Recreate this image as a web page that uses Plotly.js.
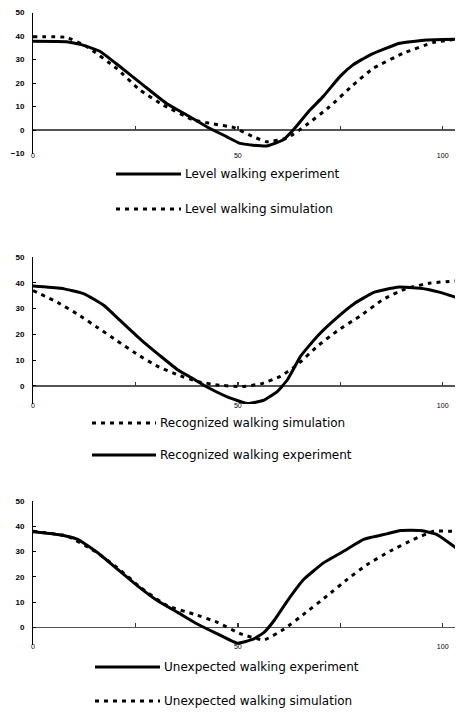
<!DOCTYPE html>
<html>
<head>
<meta charset="utf-8">
<script src="https://cdn.plot.ly/plotly-3.0.1.min.js"></script>
<style>html,body{margin:0;padding:0;background:#fff;}#chart{width:459px;height:712px;}</style>
</head>
<body>
<div id="chart"></div>
<script>
// ---- Data ----
// Panel 1: Level walking
const levelExpX = [0, 8.2, 12, 16.3, 21.2, 26.9, 32.6, 37.5, 42.4, 47.2, 50.5, 57, 61, 63.5, 67.6, 70.8, 74.9, 78.1, 82.2, 89.5, 96, 103];
const levelExpY = [37.8, 37.6, 36.2, 33.5, 27, 19.1, 11.3, 6.4, 1.4, -2.8, -5.7, -6.8, -4.3, 0, 8.5, 14.2, 22.7, 27.7, 31.9, 36.9, 38.3, 38.6];
const levelSimX = [0, 8.2, 13.1, 20.4, 26.1, 31.8, 39.1, 44, 48.9, 53.7, 57, 61.9, 66.7, 72.4, 78.1, 83, 90.3, 97.6, 103];
const levelSimY = [39.7, 39.4, 35.5, 26.2, 17, 10.6, 4.3, 2.6, 1.1, -2.8, -5, -3.5, 2.1, 9.9, 19.1, 26.2, 32.6, 37.2, 38.6];

// Panel 2: Recognized walking
const recExpX = [0, 6.8, 12.5, 17.4, 21.4, 26.3, 31.2, 35.3, 39.3, 42.6, 47.4, 52.3, 56.4, 59.6, 62.1, 65.3, 69.4, 74.2, 78.3, 83.2, 88.9, 94.6, 99.4, 103.2];
const recExpY = [38.8, 37.9, 35.7, 31.1, 25.2, 18, 11.5, 6.3, 2.6, -0.5, -4.2, -6.8, -5.5, -2.2, 2.4, 11.5, 19.3, 26.5, 31.8, 36.3, 38.3, 37.9, 36.3, 34.4];
const recSimX = [0, 6, 10.9, 15.8, 20.6, 25.5, 30.4, 35.3, 40.1, 45, 50.7, 55.6, 60.4, 64.5, 69.4, 74.2, 79.9, 85.6, 91.3, 97, 103.2];
const recSimY = [37, 32.4, 27.8, 22.6, 17.4, 12.2, 7.6, 4.3, 1.7, 0.4, -0.3, 0.8, 3.7, 8.2, 15.4, 21.3, 27.2, 33.7, 37.9, 39.9, 40.7];

// Panel 3: Unexpected walking
const unExpX = [0, 6, 10.9, 15.8, 20.6, 25.5, 30.4, 35.3, 40.1, 45, 49.9, 53.9, 56.4, 58.8, 62.1, 66.1, 71, 75.9, 80.7, 86.4, 89.7, 94.6, 98.6, 103.2];
const unExpY = [37.8, 36.7, 34.8, 29.5, 23, 16.4, 10.5, 5.9, 1.3, -2.6, -6.3, -4.6, -2, 2.6, 10.5, 19, 25.6, 30.2, 34.8, 37, 38.3, 38.3, 36.7, 31.5];
const unSimX = [0, 8.4, 15, 20.6, 26.3, 32.8, 39.3, 45, 50.7, 56.4, 61.3, 66.1, 71.8, 76.7, 81.6, 87.2, 92.9, 97.8, 103.2];
const unSimY = [38, 36.1, 30.2, 23.6, 15.7, 8.5, 5.2, 2, -2.6, -5, -0.7, 5.2, 12.5, 19, 24.9, 30.2, 34.8, 38, 38];

// Axis ticks / labels
const xTickVals = [0, 50, 100];
const xTickText = ["0", "50", "100"];
const zeroTickVals = [25, 50, 75, 100];
const yTickVals1 = [-10, 0, 10, 20, 30, 40, 50];
const yTickVals = [0, 10, 20, 30, 40, 50];

// Legend labels
const legend1 = ["Level walking experiment", "Level walking simulation"];
const legend2 = ["Recognized walking simulation", "Recognized walking experiment"];
const legend3 = ["Unexpected walking experiment", "Unexpected walking simulation"];

// ---- Layout helpers ----
const W = 459, H = 712;
const px = v => v / W;
const py = v => 1 - v / H;
const xDomain = [px(33), px(455)];
const xRange = [0, 103];
const panels = [
  {dom: [py(153.5), py(12.5)], range: [-10, 50], ticks: yTickVals1},
  {dom: [py(404), py(257)], range: [-7, 50], ticks: yTickVals},
  {dom: [py(645), py(501)], range: [-7, 50], ticks: yTickVals}
];

const DASH = '4px,5px';
const solid = {color: '#000', width: 3, shape: 'spline', smoothing: 0.4};
const dashed = {color: '#000', width: 3, dash: DASH, shape: 'spline', smoothing: 0.4};

const traces = [
  {x: levelExpX, y: levelExpY, xaxis: 'x', yaxis: 'y', mode: 'lines', line: solid},
  {x: levelSimX, y: levelSimY, xaxis: 'x', yaxis: 'y', mode: 'lines', line: dashed},
  {x: recExpX, y: recExpY, xaxis: 'x2', yaxis: 'y2', mode: 'lines', line: solid},
  {x: recSimX, y: recSimY, xaxis: 'x2', yaxis: 'y2', mode: 'lines', line: dashed},
  {x: unExpX, y: unExpY, xaxis: 'x3', yaxis: 'y3', mode: 'lines', line: solid},
  {x: unSimX, y: unSimY, xaxis: 'x3', yaxis: 'y3', mode: 'lines', line: dashed}
];

const tickFont = {family: 'Liberation Sans, Arial, sans-serif', size: 8, color: '#000', weight: 'bold'};
const layout = {
  width: W, height: H,
  margin: {l: 0, r: 0, t: 0, b: 0},
  paper_bgcolor: '#fff', plot_bgcolor: 'rgba(0,0,0,0)',
  showlegend: false,
  shapes: [], annotations: []
};

panels.forEach((p, i) => {
  const n = i + 1;
  const xs = n === 1 ? '' : String(n);
  const ys = xs;
  layout['xaxis' + xs] = {
    domain: xDomain, range: xRange, anchor: 'y' + ys,
    showline: false, showgrid: false, zeroline: false, ticks: '',
    tickvals: xTickVals, ticktext: xTickText, tickfont: {family: 'Liberation Sans, Arial, sans-serif', size: 7, color: '#000'},
    ticklabelstandoff: -4
  };
  layout['yaxis' + ys] = {
    domain: p.dom, range: p.range, anchor: 'x' + xs,
    showline: true, linecolor: '#000', linewidth: 1,
    showgrid: false, zeroline: true, zerolinecolor: '#555', zerolinewidth: 1.5,
    ticks: 'inside', ticklen: 3, tickcolor: '#000',
    tickvals: p.ticks, tickfont: tickFont, ticklabelstandoff: 6
  };
  // overlay axis drawing tick marks on the zero line
  const zpos = p.dom[0] + (0 - p.range[0]) / (p.range[1] - p.range[0]) * (p.dom[1] - p.dom[0]);
  layout['xaxis' + (n + 3)] = {
    domain: xDomain, range: xRange, overlaying: 'x' + xs, anchor: 'free', position: zpos,
    side: 'bottom', showline: false, showgrid: false, zeroline: false,
    ticks: 'inside', ticklen: 4, tickwidth: 1.5, tickcolor: '#333', tickvals: zeroTickVals, showticklabels: false
  };
});

// invisible helper traces so overlay axes are drawn
[4, 5, 6].forEach((n, i) => {
  traces.push({x: [xRange[0]], y: [0], xaxis: 'x' + n, yaxis: i === 0 ? 'y' : 'y' + (i + 1), mode: 'markers', marker: {opacity: 0}, hoverinfo: 'skip'});
});

// Manual legends
const legendFont = {family: 'DejaVu Sans, sans-serif', size: 12, color: '#000'};
function addLegend(items) {
  items.forEach(it => {
    layout.shapes.push({type: 'line', xref: 'paper', yref: 'paper',
      x0: px(it.x0), x1: px(it.x1), y0: py(it.y), y1: py(it.y),
      line: {color: '#000', width: 3, dash: it.dash ? DASH : 'solid'}});
    layout.annotations.push({xref: 'paper', yref: 'paper', x: px(it.x1 + 2), y: py(it.y),
      xanchor: 'left', yanchor: 'middle', text: it.text, showarrow: false, font: legendFont});
  });
}
addLegend([
  {x0: 116, x1: 181, y: 174, dash: false, text: legend1[0]},
  {x0: 116, x1: 181, y: 209, dash: true, text: legend1[1]}
]);
addLegend([
  {x0: 92, x1: 156, y: 423, dash: true, text: legend2[0]},
  {x0: 92, x1: 156, y: 455, dash: false, text: legend2[1]}
]);
addLegend([
  {x0: 95, x1: 160, y: 667, dash: false, text: legend3[0]},
  {x0: 95, x1: 160, y: 701, dash: true, text: legend3[1]}
]);

Plotly.newPlot('chart', traces, layout, {displayModeBar: false, staticPlot: true});
</script>
</body>
</html>
